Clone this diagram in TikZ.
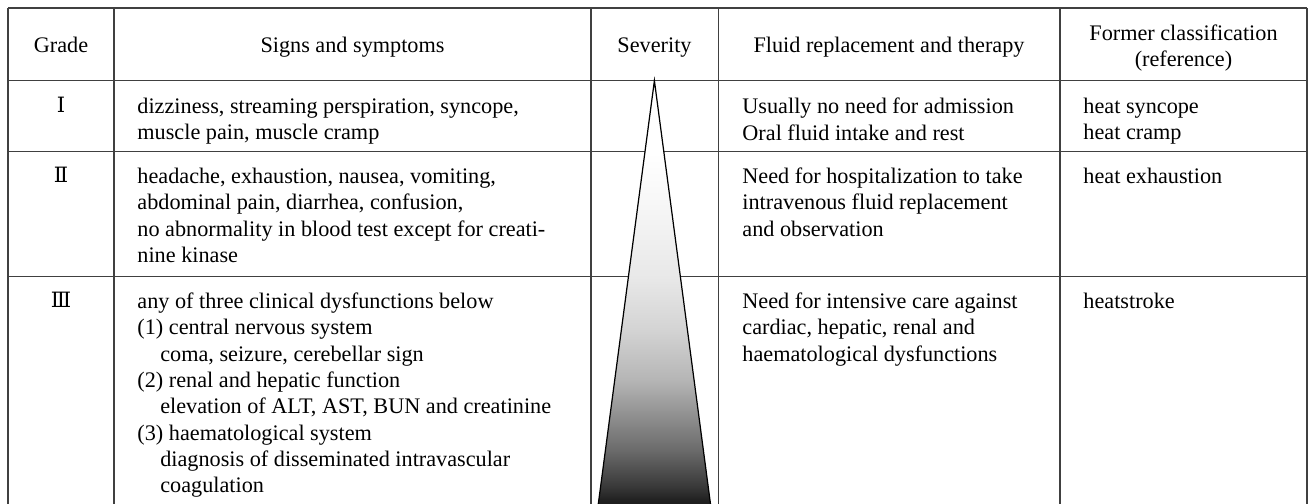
\documentclass[tikz,border=0pt]{standalone}
\usepackage{fontspec}
\setmainfont{Liberation Serif}
\newfontfamily\romfont{DejaVu Serif}
\usetikzlibrary{positioning}
\pgfdeclareverticalshading{severityshade}{100bp}{color(0bp)=(black!90); color(25bp)=(black!90); color(26.2bp)=(black!87); color(27.7bp)=(black!78); color(32bp)=(black!58); color(40.1bp)=(black!29); color(46bp)=(black!17); color(52.1bp)=(black!9); color(61.1bp)=(black!3); color(66.7bp)=(white); color(100bp)=(white)}
\tikzset {
  tabline/.style = {draw=black!75, line width=0.55pt},
  headtxt/.style = {inner sep=0, anchor=north, align=center, font=\fontsize{10pt}{11.85pt}\selectfont},
  celltxt/.style = {inner sep=0, anchor=north west, align=left, font=\fontsize{10pt}{11.85pt}\selectfont},
  gradetxt/.style = {inner sep=0, anchor=base, font=\romfont\fontsize{9.5pt}{11.85pt}\selectfont},
  sevwedge/.style = {draw=black, line width=0.55pt, shading=severityshade}
}
\newcommand{\subind}{\hspace*{10.3pt}}

\begin{document}
\begin{tikzpicture}[x=0.45pt, y=-0.45pt]
    \useasboundingbox (0,0) rectangle (1309,504);

    % table rules
    \foreach \xx in {8, 114, 591, 718.5, 1060, 1307}
        \draw[tabline] (\xx,8) -- (\xx,512);
    \foreach \yy in {8, 80.7, 151.7, 276.7}
        \draw[tabline] (8,\yy) -- (1307,\yy);

    % severity wedge
    \draw[sevwedge] (654.4,80.7) -- (597.5,510) -- (711.3,510) -- cycle;

    % header
    \node[headtxt] (hgrade) at (61,37) {Grade};
    \node[headtxt] (hsigns) at (352.5,37) {Signs and symptoms};
    \node[headtxt] (hsev) at (654.5,37) {Severity};
    \node[headtxt] (hfluid) at (889,37) {Fluid replacement and therapy};
    \node[headtxt] (hformer) at (1183.5,24) {Former classification\\(reference)};

    % grade I
    \node[gradetxt] (gradeI) at (61,113) {Ⅰ};
    \node[celltxt] (signsI) at (137,97.8) {dizziness, streaming perspiration, syncope,\\muscle pain, muscle cramp};
    \node[celltxt] (fluidI) at (742,97.8) {Usually no need for admission\\Oral fluid intake and rest};
    \node[celltxt] (formerI) at (1083,97.8) {heat syncope\\heat cramp};

    % grade II
    \node[gradetxt] (gradeII) at (61,182.7) {Ⅱ};
    \node[celltxt] (signsII) at (137,167.5) {headache, exhaustion, nausea, vomiting,\\abdominal pain, diarrhea, confusion,\\no abnormality in blood test except for creati-\\nine kinase};
    \node[celltxt] (fluidII) at (742,167.5) {Need for hospitalization to take\\intravenous fluid replacement\\and observation};
    \node[celltxt] (formerII) at (1083,167.5) {heat exhaustion};

    % grade III
    \node[gradetxt] (gradeIII) at (61,307.7) {Ⅲ};
    \node[celltxt] (signsIII) at (137,292.5) {any of three clinical dysfunctions below\\(1) central nervous system\\\subind coma, seizure, cerebellar sign\\(2) renal and hepatic function\\\subind elevation of ALT, AST, BUN and creatinine\\(3) haematological system\\\subind diagnosis of disseminated intravascular\\\subind coagulation};
    \node[celltxt] (fluidIII) at (742,292.5) {Need for intensive care against\\cardiac, hepatic, renal and\\haematological dysfunctions};
    \node[celltxt] (formerIII) at (1083,292.5) {heatstroke};
\end{tikzpicture}
\end{document}
